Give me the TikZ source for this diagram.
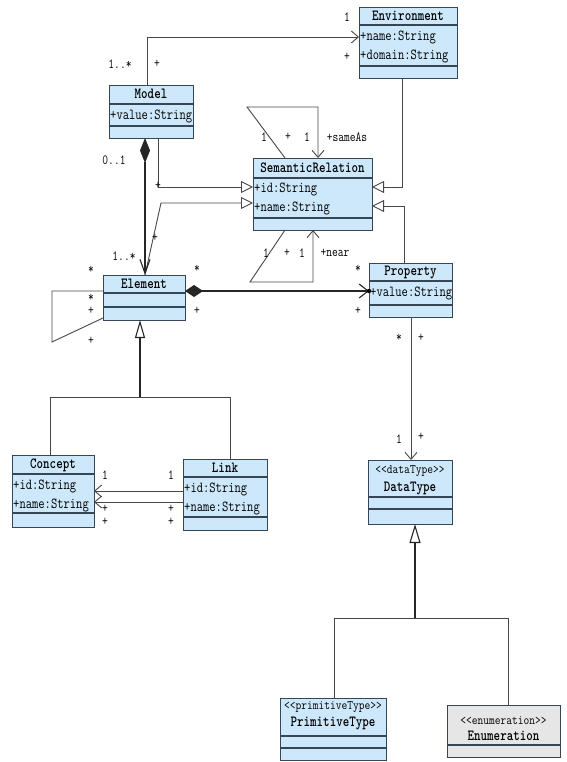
\documentclass[tikz,border=0pt]{standalone}
\usetikzlibrary{arrows.meta}
\definecolor{clsfill}{RGB}{205,232,250}
\definecolor{enumfill}{RGB}{230,230,230}
\definecolor{clsline}{RGB}{55,70,85}
\definecolor{conncol}{RGB}{70,70,70}
\newcommand\cx[1]{\scalebox{0.8}[1]{#1}}
\newcommand\cs[1]{\scalebox{0.86}[1]{#1}}
\begin{document}
\begin{tikzpicture}[x=1pt,y=-1pt,
  cls/.style={draw=clsline,fill=clsfill,line width=0.9pt,inner sep=0pt,outer sep=0pt,anchor=north west},
  enumcls/.style={cls,fill=enumfill},
  comp/.style={draw=clsline,line width=1.1pt},
  title/.style={inner sep=0pt,font=\ttfamily\fontsize{15.5}{15}\selectfont\bfseries},
  attr/.style={inner sep=0pt,anchor=west,font=\ttfamily\fontsize{15.3}{15}\selectfont},
  stereo/.style={inner sep=0pt,font=\ttfamily\fontsize{13}{13}\selectfont},
  lbl/.style={inner sep=0pt,font=\ttfamily\fontsize{14}{14}\selectfont},
  conn/.style={draw=conncol,line width=0.9pt},
  strong/.style={draw=black!85,line width=1.1pt},
  barb/.style={-{Straight Barb[length=7pt,width=12pt]}},
  gen/.style={-{Triangle[open,fill=white,length=12pt,width=12pt]}},
  genlong/.style={-{Triangle[open,fill=white,length=18pt,width=10pt]}}
]
\useasboundingbox (0,0) rectangle (566,762);

% ---------- classes ----------
% Environment
\node[cls,minimum width=98pt,minimum height=71pt] (env) at (359,7) {};
\draw[comp] (359,25) -- (457,25);
\draw[comp] (359,66) -- (457,66);
\node[title] (envt) at (408,16) {\cx{Environment}};
\node[attr] (enva1) at (360,37) {\cx{+name:String}};
\node[attr] (enva2) at (360,56) {\cx{+domain:String}};

% Model
\node[cls,minimum width=84pt,minimum height=53pt] (model) at (109,85) {};
\draw[comp] (109,104) -- (193,104);
\draw[comp] (109,126) -- (193,126);
\node[title] (modelt) at (151,94) {\cx{Model}};
\node[attr] (modela1) at (110,116) {\cx{+value:String}};

% SemanticRelation
\node[cls,minimum width=119pt,minimum height=72pt] (sr) at (253,158) {};
\draw[comp] (253,178) -- (372,178);
\draw[comp] (253,218) -- (372,218);
\node[title] (srt) at (312.5,168) {\cx{SemanticRelation}};
\node[attr] (sra1) at (254,189) {\cx{+id:String}};
\node[attr] (sra2) at (254,208) {\cx{+name:String}};

% Element
\node[cls,minimum width=82pt,minimum height=45pt] (elem) at (103,275) {};
\draw[comp] (103,293) -- (185,293);
\draw[comp] (103,307) -- (185,307);
\node[title] (elemt) at (144,284) {\cx{Element}};

% Property
\node[cls,minimum width=83pt,minimum height=54pt] (prop) at (369,263) {};
\draw[comp] (369,281) -- (452,281);
\draw[comp] (369,305) -- (452,305);
\node[title] (propt) at (410.5,272) {\cx{Property}};
\node[attr] (propa1) at (370,293) {\cx{+value:String}};

% Concept
\node[cls,minimum width=82pt,minimum height=72pt] (concept) at (12,455) {};
\draw[comp] (12,474) -- (94,474);
\draw[comp] (12,513) -- (94,513);
\node[title] (conceptt) at (53,465) {\cx{Concept}};
\node[attr] (concepta1) at (13,486) {\cx{+id:String}};
\node[attr] (concepta2) at (13,505) {\cx{+name:String}};

% Link
\node[cls,minimum width=84pt,minimum height=71pt] (link) at (183,459) {};
\draw[comp] (183,477) -- (267,477);
\draw[comp] (183,517) -- (267,517);
\node[title] (linkt) at (225,468) {\cx{Link}};
\node[attr] (linka1) at (184,489) {\cx{+id:String}};
\node[attr] (linka2) at (184,508) {\cx{+name:String}};

% DataType
\node[cls,minimum width=84pt,minimum height=64pt] (dt) at (368,460) {};
\draw[comp] (368,497) -- (452,497);
\draw[comp] (368,509) -- (452,509);
\node[stereo] (dts) at (410,471) {\cs{<<dataType>>}};
\node[title] (dtt) at (410,488) {\cx{DataType}};

% PrimitiveType
\node[cls,minimum width=106pt,minimum height=62pt] (prim) at (280,698) {};
\draw[comp] (280,736) -- (386,736);
\draw[comp] (280,748) -- (386,748);
\node[stereo] (prims) at (333,707) {\cs{<<primitiveType>>}};
\node[title] (primt) at (333,723) {\cx{PrimitiveType}};

% Enumeration
\node[enumcls,minimum width=113pt,minimum height=52pt] (enum) at (447,705) {};
\draw[comp] (447,745) -- (560,745);
\node[stereo] (enums) at (503.5,721) {\cs{<<enumeration>>}};
\node[title] (enumt) at (503.5,736) {\cx{Enumeration}};

% ---------- connectors ----------
% Model -> Environment
\draw[conn,barb] (147,0 |- model.north) -- (147,37) -- (env.west |- 0,37);
\node[lbl] (l1) at (120,64) {\cx{1..*}};
\node[lbl] (l2) at (157,64) {\cx{+}};
\node[lbl] (l3) at (347,17) {\cx{1}};
\node[lbl] (l4) at (347,57) {\cx{+}};

% Environment -> SemanticRelation (generalization)
\draw[conn,gen] (402,0 |- env.south) -- (402,187) -- (sr.east |- 0,187);
% Property -> SemanticRelation (generalization)
\draw[conn,gen] (404,0 |- prop.north) -- (404,206) -- (sr.east |- 0,206);
% Model -> SemanticRelation (generalization)
\draw[conn,gen] (158,0 |- model.south) -- (158,187) -- (sr.west |- 0,187);
\node[lbl] (l5) at (158,186) {\cx{+}};
% Element -> SemanticRelation (generalization)
\draw[conn,gen] (145,0 |- elem.north) -- (161,203) -- (sr.west |- 0,203);
\node[lbl] (l6) at (155,238) {\cx{+}};

% Model <>-> Element (composition)
\draw[strong,{Diamond[length=25pt,width=10pt]}-{Straight Barb[length=14pt,width=10pt]}] (145,0 |- model.south) -- (145,0 |- elem.north);
\node[lbl] (l7) at (114,160) {\cx{0..1}};
\node[lbl] (l8) at (124,256) {\cx{1..*}};

% sameAs self loop
\draw[conn,barb] (285,0 |- sr.north) -- (247,107) -- (318,107) -- (318,0 |- sr.north);
\node[lbl] (l9) at (264,137) {\cx{1}};
\node[lbl] (l10) at (288,137) {\cx{+}};
\node[lbl] (l11) at (307,137) {\cx{1}};
\node[lbl] (l12) at (347,137) {\cx{+sameAs}};

% near self loop
\draw[conn,barb] (285,0 |- sr.south) -- (250,282) -- (313,282) -- (313,0 |- sr.south);
\node[lbl] (l13) at (266,253) {\cx{1}};
\node[lbl] (l14) at (287,253) {\cx{+}};
\node[lbl] (l15) at (302,253) {\cx{1}};
\node[lbl] (l16) at (335,253) {\cx{+near}};

% Element self loop
\draw[conn] (elem.west |- 0,291) -- (52,291) -- (52,342) -- (elem.west |- 0,318);
\node[lbl] (l17) at (91,270) {\cx{*}};
\node[lbl] (l18) at (91,298) {\cx{*}};
\node[lbl] (l19) at (91,311) {\cx{+}};
\node[lbl] (l20) at (91,341) {\cx{+}};

% Element <>-> Property (composition)
\draw[strong,{Diamond[length=18pt,width=12pt]}-{Straight Barb[length=9pt,width=14pt]}] (elem.east |- 0,291) -- (prop.west |- 0,291);
\fill[black] (prop.west |- 0,291) circle (2.2pt);
\node[lbl] (l21) at (197,269) {\cx{*}};
\node[lbl] (l22) at (197,311) {\cx{+}};
\node[lbl] (l23) at (358,269) {\cx{*}};
\node[lbl] (l24) at (358,311) {\cx{+}};

% Property -> DataType
\draw[conn,barb] (411,0 |- prop.south) -- (411,0 |- dt.north);
\node[lbl] (l25) at (399,338) {\cx{*}};
\node[lbl] (l26) at (421,338) {\cx{+}};
\node[lbl] (l27) at (399,439) {\cx{1}};
\node[lbl] (l28) at (421,437) {\cx{+}};

% Concept, Link -> Element (generalization)
\draw[conn] (50,0 |- concept.north) -- (50,397) -- (230,397) -- (230,0 |- link.north);
\draw[strong,genlong] (140,397) -- (140,0 |- elem.south);

% Link -> Concept
\draw[conn,barb] (link.west |- 0,491) -- (concept.east |- 0,491);
\draw[conn,barb] (link.west |- 0,502) -- (concept.east |- 0,502);
\node[lbl] (l29) at (105,475) {\cx{1}};
\node[lbl] (l30) at (171,475) {\cx{1}};
\node[lbl] (l31) at (105,509) {\cx{+}};
\node[lbl] (l32) at (105,522) {\cx{+}};
\node[lbl] (l33) at (171,509) {\cx{+}};
\node[lbl] (l34) at (171,522) {\cx{+}};

% PrimitiveType, Enumeration -> DataType (generalization)
\draw[conn] (334,0 |- prim.north) -- (334,618) -- (508,618) -- (508,0 |- enum.north);
\draw[strong,{Triangle[open,fill=white,length=19pt,width=11pt]}-] (415,0 |- dt.south) -- (415,618);
\end{tikzpicture}
\end{document}
